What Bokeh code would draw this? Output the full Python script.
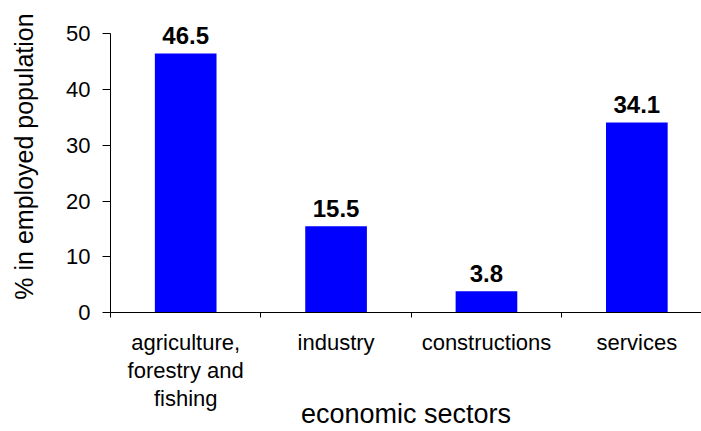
from bokeh.plotting import figure
from bokeh.models import ColumnDataSource, FixedTicker, Range1d
from bokeh.core.properties import value
from bokeh.embed import file_html
from bokeh.resources import INLINE

categories = ["agriculture,\nforestry and\nfishing", "industry", "constructions", "services"]
values = [46.5, 15.5, 3.8, 34.1]
y_ticks = [0, 10, 20, 30, 40, 50]
x_title = "economic sectors"
y_title = "% in employed population"

xs = [i + 0.5 for i in range(len(categories))]
src = ColumnDataSource(dict(x=xs, top=values, label=["%.1f" % v for v in values]))

X_END = 3.93
Y_END = 56.0

p = figure(width=701, height=431, output_backend="svg", toolbar_location=None,
           x_range=Range1d(0, X_END), y_range=Range1d(0, Y_END),
           min_border_left=110, min_border_right=0, min_border_top=0, min_border_bottom=119)
p.outline_line_color = None
p.xgrid.visible = False
p.ygrid.visible = False

p.vbar(x="x", top="top", width=0.41, bottom=0, source=src, fill_color="#0000FF", line_color=None)
p.text(x="x", y="top", text="label", source=src, text_align="center", text_baseline="alphabetic",
       y_offset=-18, text_font=value("Liberation Sans"), text_font_style="bold",
       text_font_size="24px", text_color="black")

font = "Liberation Sans"
xa = p.xaxis[0]
xa.ticker = FixedTicker(ticks=xs, minor_ticks=list(range(len(categories))))
xa.major_label_overrides = {x: c for x, c in zip(xs, categories)}
xa.major_tick_line_color = None
xa.minor_tick_out = 5
xa.minor_tick_in = 0
xa.minor_tick_line_color = "black"
xa.axis_line_color = "black"
xa.major_label_text_font = font
xa.major_label_text_font_size = "22px"
xa.major_label_text_color = "black"
xa.major_label_text_line_height = 1.12
xa.major_label_standoff = 11
xa.axis_label = x_title
xa.axis_label_text_font = font
xa.axis_label_text_font_size = "27px"
xa.axis_label_text_font_style = "normal"
xa.axis_label_text_color = "black"
xa.axis_label_standoff = -15

ya = p.yaxis[0]
ya.ticker = FixedTicker(ticks=y_ticks)
ya.bounds = (0, 50)
ya.minor_tick_line_color = None
ya.major_tick_out = 8
ya.major_tick_in = 0
ya.major_tick_line_color = "black"
ya.axis_line_color = "black"
ya.major_label_text_font = font
ya.major_label_text_font_size = "22px"
ya.major_label_text_color = "black"
ya.major_label_standoff = 12
ya.axis_label = y_title
ya.axis_label_text_font = font
ya.axis_label_text_font_size = "25px"
ya.axis_label_text_font_style = "normal"
ya.axis_label_text_color = "black"
ya.axis_label_standoff = 25

open("out.html", "w").write(file_html(p, INLINE))
